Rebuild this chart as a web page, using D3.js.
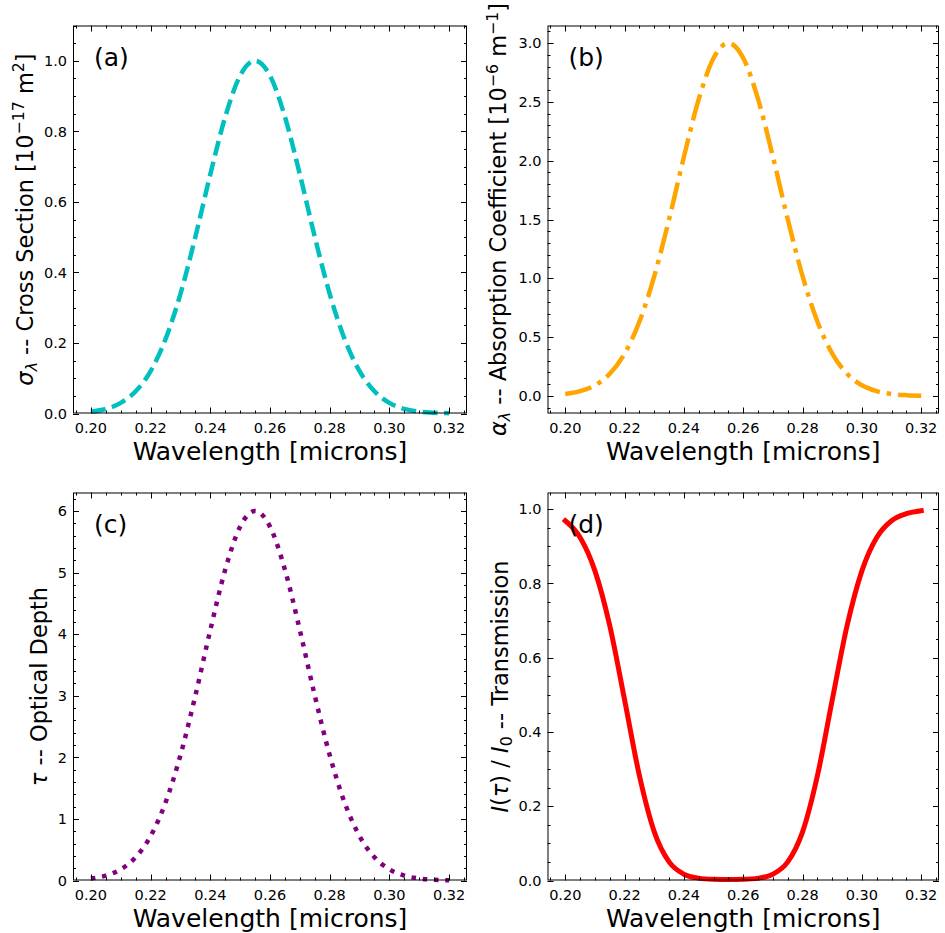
<!DOCTYPE html>
<html>
<head>
<meta charset="utf-8">
<script src="https://cdn.jsdelivr.net/npm/d3@7"></script>
<style>
  html, body { margin: 0; padding: 0; background: #ffffff; }
  svg { display: block; }
  text { font-family: "DejaVu Sans", sans-serif; fill: #000; }
</style>
</head>
<body>
<svg id="chart" width="945" height="933"></svg>
<script>
// ---- Data ----
const wavelength = [0.200, 0.205, 0.210, 0.215, 0.220, 0.225, 0.230, 0.235, 0.240, 0.245, 0.250, 0.255,
  0.260, 0.265, 0.270, 0.275, 0.280, 0.285, 0.290, 0.295, 0.300, 0.305, 0.310, 0.315, 0.320];
// (a) cross section [1e-17 m^2]
const crossSection = [0.005, 0.013, 0.030, 0.063, 0.120, 0.211, 0.339, 0.501, 0.678, 0.841, 0.958, 1.000,
  0.958, 0.841, 0.678, 0.501, 0.339, 0.211, 0.120, 0.063, 0.030, 0.013, 0.005, 0.002, 0.001];
// (b) absorption coefficient [1e-6 m^-1]
const absorption = [0.016, 0.040, 0.090, 0.188, 0.360, 0.632, 1.018, 1.502, 2.033, 2.523, 2.873, 3.000,
  2.873, 2.523, 2.033, 1.502, 1.018, 0.632, 0.360, 0.188, 0.090, 0.040, 0.016, 0.006, 0.002];
// (c) optical depth
const opticalDepth = [0.032, 0.079, 0.181, 0.377, 0.721, 1.265, 2.035, 3.003, 4.066, 5.047, 5.746, 6.000,
  5.746, 5.047, 4.066, 3.003, 2.035, 1.265, 0.721, 0.377, 0.181, 0.079, 0.032, 0.012, 0.004];
// (d) transmission I/I0
const transmission = [0.969, 0.924, 0.834, 0.686, 0.486, 0.282, 0.131, 0.050, 0.017, 0.0064, 0.0032, 0.0025,
  0.0032, 0.0064, 0.017, 0.050, 0.131, 0.282, 0.486, 0.686, 0.834, 0.924, 0.969, 0.988, 0.996];

const xTicks = [0.20, 0.22, 0.24, 0.26, 0.28, 0.30, 0.32];
const yTicksA = [0.0, 0.2, 0.4, 0.6, 0.8, 1.0];
const yTicksB = [0.0, 0.5, 1.0, 1.5, 2.0, 2.5, 3.0];
const yTicksC = [0, 1, 2, 3, 4, 5, 6];
const yTicksD = [0.0, 0.2, 0.4, 0.6, 0.8, 1.0];
const panelLetters = ["(a)", "(b)", "(c)", "(d)"];
const xLabel = "Wavelength [microns]";

// ---- Layout ----
const svg = d3.select("#chart");
const xDomain = [0.194, 0.326];
const xMinorStep = 0.005;
const YL_SIZE = 22.5, YL_SMALL = 15.75;

const panels = [
  { box: [73, 467, 25.5, 413.5], yDomain: [0, 1.1], yTicks: yTicksA, yMinor: 0.05, yFmt: d3.format(".1f"),
    values: crossSection, color: "#00bfbf", dash: "15,6.5", width: 4.5, letter: panelLetters[0],
    ylabelX: 32.5,
    ylabel: [{t: "σ", it: true}, {t: "λ", it: true, sub: true}, {t: " -- Cross Section [10"}, {t: "−17", sup: true}, {t: " m"}, {t: "2", sup: true}, {t: "]"}] },
  { box: [547.5, 939, 25.5, 413.5], yDomain: [-0.15, 3.15], yTicks: yTicksB, yMinor: 0.1, yFmt: d3.format(".1f"),
    values: absorption, color: "#ffa500", dash: "27,7,4.5,7", width: 4.5, letter: panelLetters[1],
    ylabelX: 506,
    ylabel: [{t: "α", it: true}, {t: "λ", it: true, sub: true}, {t: " -- Absorption Coefficient [10"}, {t: "−6", sup: true}, {t: " m"}, {t: "−1", sup: true}, {t: "]"}] },
  { box: [73, 467, 492.5, 880.5], yDomain: [0, 6.3], yTicks: yTicksC, yMinor: 0.2, yFmt: d3.format("d"),
    values: opticalDepth, color: "#800080", dash: "4.5,6.8", width: 4.5, letter: panelLetters[2],
    ylabelX: 46.5,
    ylabel: [{t: "τ", it: true}, {t: " -- Optical Depth"}] },
  { box: [547.5, 939, 492.5, 880.5], yDomain: [0, 1.045], yTicks: yTicksD, yMinor: 0.05, yFmt: d3.format(".1f"),
    values: transmission, color: "#ff0000", dash: null, width: 5, letter: panelLetters[3],
    ylabelX: 508,
    ylabel: [{t: "I", it: true}, {t: "("}, {t: "τ", it: true}, {t: ") / "}, {t: "I", it: true}, {t: "0", sub: true}, {t: " -- Transmission"}] }
];

function drawPanel(p) {
  const [L, R, T, B] = p.box;
  const x = d3.scaleLinear().domain(xDomain).range([L, R]);
  const y = d3.scaleLinear().domain(p.yDomain).range([B, T]);
  const g = svg.append("g");

  // curve
  const line = d3.line()
    .x((d, i) => x(wavelength[i]))
    .y(d => y(d))
    .curve(d3.curveMonotoneX);
  const path = g.append("path")
    .datum(p.values)
    .attr("d", line)
    .attr("fill", "none")
    .attr("stroke", p.color)
    .attr("stroke-width", p.width)
    .attr("stroke-linejoin", "round");
  if (p.dash) path.attr("stroke-dasharray", p.dash).attr("stroke-linecap", "butt");
  else path.attr("stroke-linecap", "square");

  // ticks (inward, all four sides)
  const majLen = 6, minLen = 3;
  const tg = g.append("g").attr("stroke", "#000").attr("stroke-width", 1);
  const xMinor = d3.range(Math.ceil(xDomain[0] / xMinorStep - 1e-9), Math.floor(xDomain[1] / xMinorStep + 1e-9) + 1).map(k => k * xMinorStep);
  xMinor.forEach(v => {
    const isMajor = xTicks.some(t => Math.abs(t - v) < 1e-9);
    const len = isMajor ? majLen : minLen;
    const px = Math.round(x(v)) + 0.5;
    tg.append("line").attr("x1", px).attr("x2", px).attr("y1", B).attr("y2", B - len);
    tg.append("line").attr("x1", px).attr("x2", px).attr("y1", T).attr("y2", T + len);
  });
  const yMinor = d3.range(Math.ceil(p.yDomain[0] / p.yMinor - 1e-9), Math.floor(p.yDomain[1] / p.yMinor + 1e-9) + 1).map(k => k * p.yMinor);
  yMinor.forEach(v => {
    const isMajor = p.yTicks.some(t => Math.abs(t - v) < 1e-9);
    const len = isMajor ? majLen : minLen;
    const py = Math.round(y(v)) + 0.5;
    tg.append("line").attr("y1", py).attr("y2", py).attr("x1", L).attr("x2", L + len);
    tg.append("line").attr("y1", py).attr("y2", py).attr("x1", R).attr("x2", R - len);
  });

  // spines
  g.append("rect").attr("x", L + 0.5).attr("y", T + 0.5).attr("width", R - L - 1).attr("height", B - T - 1)
    .attr("fill", "none").attr("stroke", "#000").attr("stroke-width", 1);

  // tick labels
  const fmtX = d3.format(".2f");
  xTicks.forEach(v => {
    g.append("text").attr("x", x(v)).attr("y", B + 19).attr("text-anchor", "middle")
      .attr("font-size", "14.5px").text(fmtX(v));
  });
  p.yTicks.forEach(v => {
    g.append("text").attr("x", L - 6).attr("y", y(v) + 5.2).attr("text-anchor", "end")
      .attr("font-size", "14.5px").text(p.yFmt(v));
  });

  // x label
  g.append("text").attr("x", (L + R) / 2).attr("y", B + 46).attr("text-anchor", "middle")
    .attr("font-size", "25px").text(xLabel);

  // y label (rotated, rich text)
  const cy = (T + B) / 2;
  const yl = g.append("text").attr("text-anchor", "middle").attr("font-size", YL_SIZE + "px")
    .attr("transform", `translate(${p.ylabelX},${cy}) rotate(-90)`);
  let cur = 0;
  p.ylabel.forEach(part => {
    const shift = part.sup ? -8.5 : (part.sub ? 4 : 0);
    const ts = yl.append("tspan").attr("dy", shift - cur).text(part.t);
    if (part.sup || part.sub) ts.attr("font-size", YL_SMALL + "px");
    if (part.it) ts.attr("font-style", "italic");
    cur = shift;
  });

  // panel letter
  g.append("text").attr("x", L + 21).attr("y", T + 40).attr("font-size", "25px").text(p.letter);
}

panels.forEach(drawPanel);
</script>
</body>
</html>
